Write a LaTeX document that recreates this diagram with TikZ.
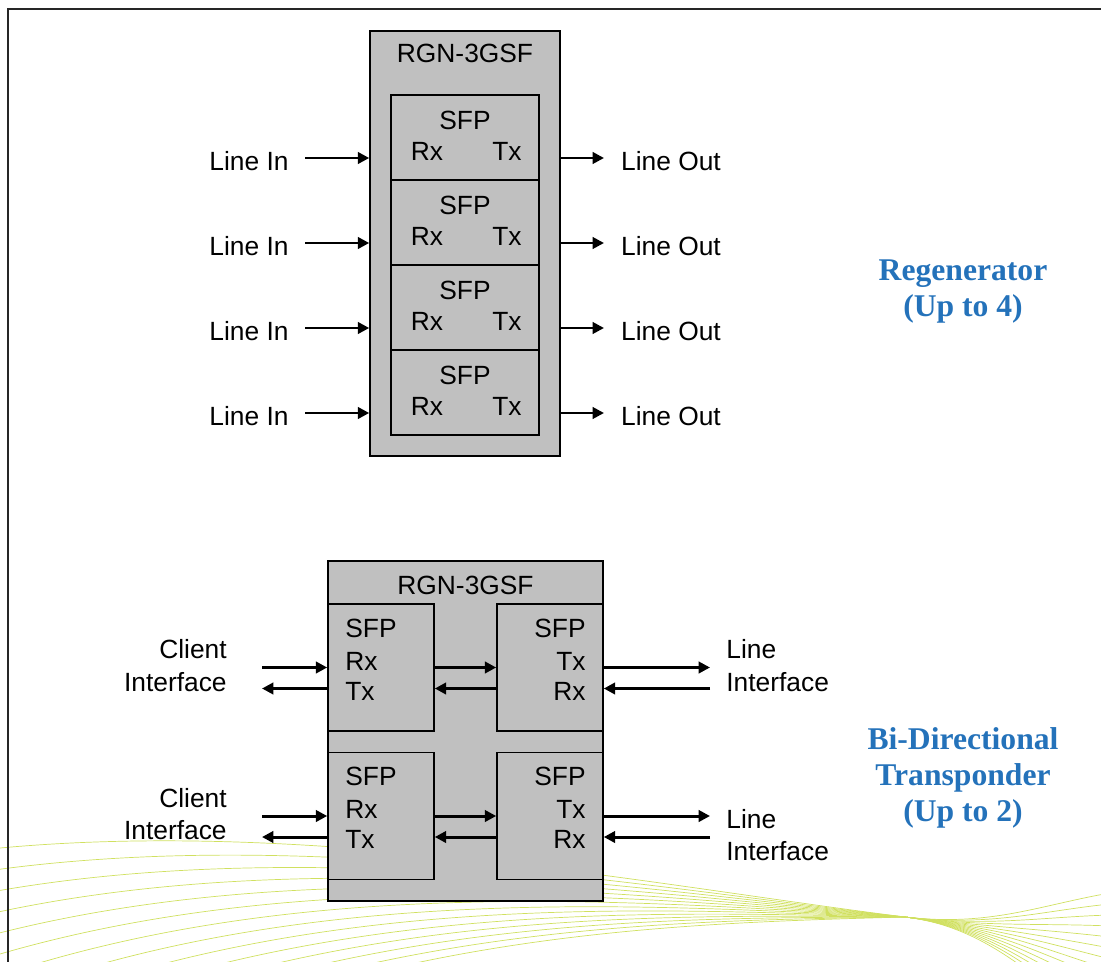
\documentclass[tikz,border=0pt]{standalone}
\usepackage{fontspec}
\setmainfont{Liberation Sans}
\newfontfamily\capfont{Liberation Serif}
\usetikzlibrary{arrows.meta}
\definecolor{boxgray}{RGB}{192,192,192}
\definecolor{capblue}{RGB}{36,114,186}
\definecolor{wavegreen}{RGB}{208,224,96}

\begin{document}
\begin{tikzpicture}[x=0.02cm,y=-0.02cm,
  every node/.style={font=\fontsize{15}{18.5}\selectfont},
  box/.style={draw=black,line width=0.9pt,fill=boxgray,inner sep=0pt},
  sig/.style={line width=1.7pt,-{Triangle[length=6.5pt,width=6.5pt]}},
  caption/.style={text=capblue,align=center,font=\capfont\bfseries\fontsize{18}{20.5}\selectfont},
  wave/.style={draw=wavegreen,line width=0.4pt}]
\useasboundingbox (0,0) rectangle (1101,962);
% background swoosh
\begin{scope}
\clip (0,0) rectangle (1101,962);
\foreach \k in {0,...,13}{
  \draw[wave] (-20,850+22*\k) .. controls (300,816+9*\k) and (650,885+3*\k) .. (905,917)
    .. controls (990,927) and (1040,905+6*\k) .. (1110,893+11*\k);
}
\end{scope}
\draw[line width=1.1pt,black!85] (8,970) -- (8,9) -- (1110,9);

% regenerator
\node[box,minimum width=3.8cm,minimum height=8.5cm] (rgnA) at (465,243.5) {};
\node (titleA) at (465,53) {RGN-3GSF};
\foreach \i in {1,...,4}{
  \pgfmathsetmacro\yc{137.5+85*(\i-1)}
  \node[box,minimum width=2.96cm,minimum height=1.7cm] (sfp\i) at (465,\yc) {};
  \node (sfpt\i) at (465,\yc-17.5) {SFP};
  \node (rx\i) at (427,\yc+13.5) {Rx};
  \node (tx\i) at (507,\yc+13.5) {Tx};
  \coordinate (in\i) at (305,\yc+20.5);
  \coordinate (out\i) at (604,\yc+20.5);
  \draw[sig] (in\i) -- (in\i -| rgnA.west);
  \draw[sig] (out\i -| rgnA.east) -- (out\i);
  \node (linein\i) at (249,\yc+23.5) {Line In};
  \node (lineout\i) at (671,\yc+23.5) {Line Out};
}
\node[caption] (regen) at (963,292) {Regenerator\\(Up to 4)};

% transponder
\node[box,minimum width=5.5cm,minimum height=6.8cm] (rgnB) at (465.5,731) {};
\node (titleB) at (465.5,585) {RGN-3GSF};
\foreach \r/\yc in {1/667.5,2/816}{
  \node[box,minimum width=2.12cm,minimum height=2.54cm] (cl\r) at (381,\yc) {};
  \node[box,minimum width=2.12cm,minimum height=2.54cm] (ln\r) at (550,\yc) {};
  \node[anchor=west,inner sep=0pt] (clsfp\r) at (345,\yc-39.5) {SFP};
  \node[anchor=west,inner sep=0pt] (clrx\r) at (345,\yc-6.5) {Rx};
  \node[anchor=west,inner sep=0pt] (cltx\r) at (345,\yc+23.5) {Tx};
  \node[anchor=east,inner sep=0pt] (lnsfp\r) at (586,\yc-39.5) {SFP};
  \node[anchor=east,inner sep=0pt] (lntx\r) at (586,\yc-6.5) {Tx};
  \node[anchor=east,inner sep=0pt] (lnrx\r) at (586,\yc+23.5) {Rx};
  \coordinate (cin\r) at (262,\yc);
  \coordinate (cout\r) at (262,\yc+21);
  \coordinate (lout\r) at (710,\yc);
  \coordinate (lin\r) at (710,\yc+21);
  \draw[sig] (cin\r) -- (cin\r -| cl\r.west);
  \draw[sig] (cout\r -| cl\r.west) -- (cout\r);
  \draw[sig] (cin\r -| cl\r.east) -- (cin\r -| ln\r.west);
  \draw[sig] (cout\r -| ln\r.west) -- (cout\r -| cl\r.east);
  \draw[sig] (lout\r -| ln\r.east) -- (lout\r);
  \draw[sig] (lin\r) -- (lin\r -| ln\r.east);
  \node[anchor=east,align=right,inner sep=0pt] (client\r) at (227,\yc-2) {Client\\Interface};
}
\node[anchor=west,align=left,inner sep=0pt] (line1) at (726,665.5) {Line\\Interface};
\node[anchor=west,align=left,inner sep=0pt] (line2) at (726,835) {Line\\Interface};
\node[caption] (bidir) at (963,778) {Bi-Directional\\Transponder\\(Up to 2)};
\end{tikzpicture}
\end{document}
